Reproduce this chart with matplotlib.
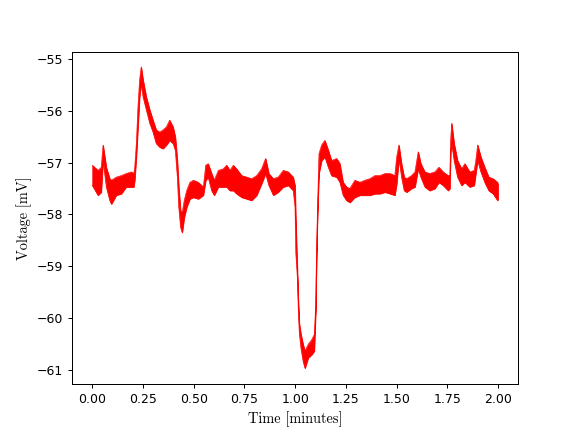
import matplotlib
matplotlib.use("Agg")
import matplotlib.pyplot as plt
import numpy as np

# envelope of the noisy trace
time_min = [0.000, 0.028, 0.044, 0.053, 0.069, 0.086, 0.094, 0.118, 0.143, 0.167,
            0.192, 0.204, 0.209, 0.217, 0.225, 0.233, 0.241, 0.250, 0.266, 0.283,
            0.299, 0.315, 0.332, 0.348, 0.365, 0.381, 0.398, 0.409, 0.419, 0.426,
            0.435, 0.443, 0.453, 0.465, 0.481, 0.498, 0.522, 0.547, 0.559, 0.571,
            0.588, 0.601, 0.621, 0.645, 0.662, 0.678, 0.695, 0.711, 0.736, 0.761,
            0.785, 0.810, 0.834, 0.854, 0.870, 0.892, 0.916, 0.941, 0.966, 0.990,
            0.999, 1.003, 1.010, 1.015, 1.020, 1.028, 1.039, 1.048, 1.064, 1.081,
            1.094, 1.101, 1.105, 1.110, 1.117, 1.130, 1.146, 1.163, 1.179, 1.204,
            1.220, 1.236, 1.253, 1.269, 1.294, 1.319, 1.343, 1.368, 1.393, 1.417,
            1.442, 1.467, 1.491, 1.500, 1.511, 1.524, 1.537, 1.549, 1.573, 1.590,
            1.606, 1.619, 1.639, 1.663, 1.688, 1.708, 1.729, 1.754, 1.762, 1.766,
            1.771, 1.783, 1.800, 1.820, 1.836, 1.860, 1.882, 1.890, 1.899, 1.915,
            1.934, 1.954, 1.975, 1.997, 2.000]

v_upper = [-57.05, -57.15, -57.09, -56.66, -57.09, -57.31, -57.34, -57.28, -57.25, -57.21,
           -57.18, -57.21, -57.09, -56.63, -55.92, -55.40, -55.15, -55.40, -55.73, -55.98,
           -56.18, -56.37, -56.41, -56.37, -56.31, -56.18, -56.31, -56.50, -56.96, -57.47,
           -57.93, -57.96, -57.73, -57.54, -57.38, -57.34, -57.38, -57.47, -57.05, -57.02,
           -57.21, -57.34, -57.15, -57.12, -57.05, -57.15, -57.05, -57.12, -57.25, -57.28,
           -57.31, -57.25, -57.12, -56.92, -57.21, -57.31, -57.28, -57.15, -57.18, -57.28,
           -57.44, -58.12, -59.00, -59.63, -60.10, -60.31, -60.51, -60.64, -60.51, -60.42,
           -60.32, -59.73, -58.70, -57.87, -56.83, -56.66, -56.57, -56.76, -56.96, -56.92,
           -57.02, -57.38, -57.47, -57.50, -57.34, -57.38, -57.34, -57.31, -57.25, -57.25,
           -57.21, -57.21, -57.25, -56.89, -56.66, -57.02, -57.28, -57.31, -57.25, -57.18,
           -56.79, -57.02, -57.18, -57.21, -57.18, -57.09, -57.18, -57.25, -57.25, -56.57,
           -56.24, -56.63, -56.96, -57.12, -57.02, -57.18, -57.15, -56.96, -56.66, -56.89,
           -57.09, -57.28, -57.31, -57.38, -57.45]

v_lower = [-57.44, -57.63, -57.57, -56.96, -57.47, -57.73, -57.80, -57.63, -57.60, -57.47,
           -57.47, -57.47, -57.34, -56.89, -56.31, -55.73, -55.47, -55.73, -55.98, -56.24,
           -56.41, -56.63, -56.70, -56.73, -56.66, -56.57, -56.63, -56.76, -57.28, -57.86,
           -58.25, -58.35, -58.06, -57.86, -57.70, -57.67, -57.70, -57.63, -57.34, -57.28,
           -57.54, -57.63, -57.47, -57.47, -57.47, -57.54, -57.54, -57.60, -57.67, -57.70,
           -57.73, -57.63, -57.41, -57.21, -57.44, -57.63, -57.57, -57.47, -57.44, -57.54,
           -57.86, -58.76, -59.19, -59.83, -60.29, -60.58, -60.84, -60.97, -60.77, -60.71,
           -60.64, -59.87, -58.84, -57.98, -57.21, -56.96, -56.89, -57.09, -57.25, -57.28,
           -57.38, -57.63, -57.73, -57.77, -57.67, -57.63, -57.63, -57.63, -57.60, -57.60,
           -57.57, -57.60, -57.63, -57.41, -56.92, -57.28, -57.54, -57.57, -57.50, -57.47,
           -57.12, -57.28, -57.47, -57.54, -57.50, -57.38, -57.44, -57.54, -57.50, -56.76,
           -56.63, -56.96, -57.28, -57.44, -57.38, -57.47, -57.44, -57.21, -56.96, -57.18,
           -57.38, -57.54, -57.60, -57.73, -57.70]

fig, ax = plt.subplots(figsize=(6.4, 4.8), dpi=90)

ax.fill_between(time_min, v_lower, v_upper, color="red", linewidth=0.6, edgecolor="red")
ax.plot(time_min, v_upper, color="red", linewidth=0.5)
ax.plot(time_min, v_lower, color="red", linewidth=0.5)

ax.set_xticks(np.arange(0, 2.01, 0.25))
ax.set_yticks(np.arange(-61, -54.9, 1))
ax.set_xlim(-0.1, 2.1)
ax.set_ylim(-61.285, -54.86)

ax.set_xlabel("Time [minutes]", fontfamily="cmr10", fontsize=11.5)
ax.set_ylabel("Voltage [mV]", fontfamily="cmr10", fontsize=11.5)

plt.savefig("out.png")
